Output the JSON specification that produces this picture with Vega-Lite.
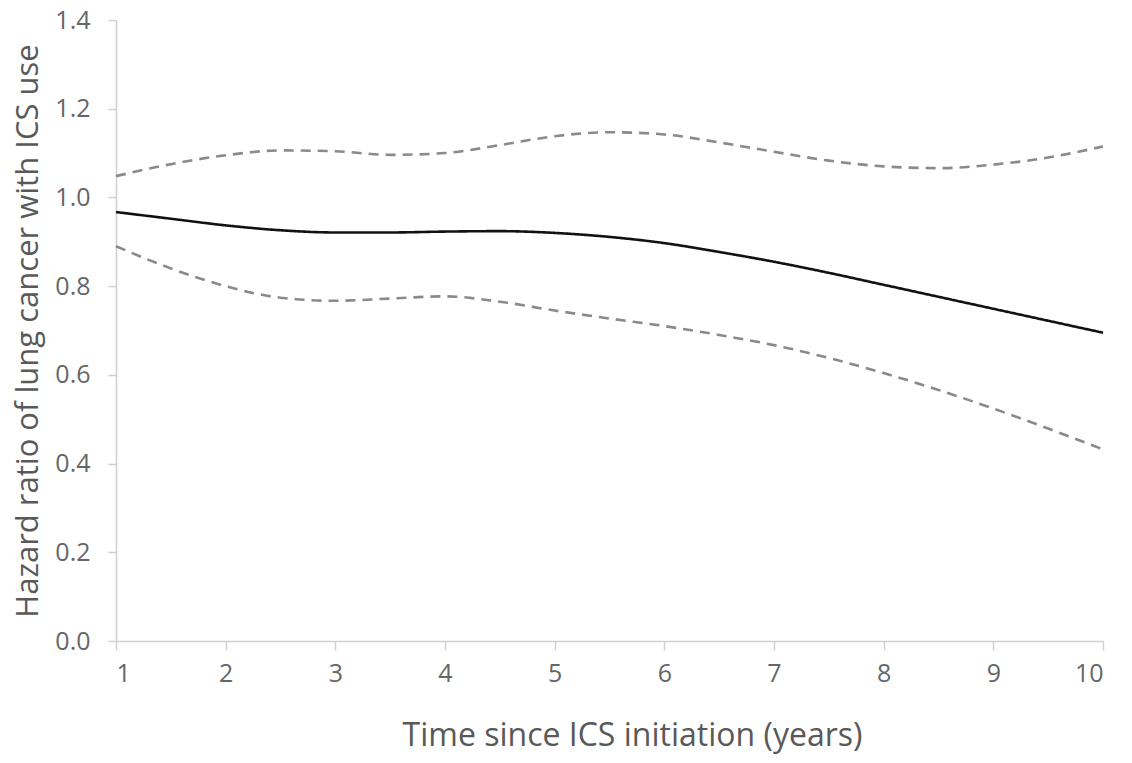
{
  "$schema": "https://vega.github.io/schema/vega-lite/v6.json",
  "width": 987,
  "height": 621,
  "autosize": {"type": "none"},
  "padding": {"left": 116, "top": 20, "right": 29, "bottom": 122},
  "background": "white",
  "config": {"view": {"stroke": null}, "font": "Open Sans"},
  "data": {"values": [
    {"t": 1, "hr": 0.967, "s": "HR"},
    {"t": 1.5, "hr": 0.952, "s": "HR"},
    {"t": 2, "hr": 0.937, "s": "HR"},
    {"t": 2.5, "hr": 0.926, "s": "HR"},
    {"t": 3, "hr": 0.921, "s": "HR"},
    {"t": 3.5, "hr": 0.921, "s": "HR"},
    {"t": 4, "hr": 0.923, "s": "HR"},
    {"t": 4.5, "hr": 0.924, "s": "HR"},
    {"t": 5, "hr": 0.92, "s": "HR"},
    {"t": 5.5, "hr": 0.911, "s": "HR"},
    {"t": 6, "hr": 0.897, "s": "HR"},
    {"t": 6.5, "hr": 0.877, "s": "HR"},
    {"t": 7, "hr": 0.855, "s": "HR"},
    {"t": 7.5, "hr": 0.83, "s": "HR"},
    {"t": 8, "hr": 0.803, "s": "HR"},
    {"t": 8.5, "hr": 0.776, "s": "HR"},
    {"t": 9, "hr": 0.749, "s": "HR"},
    {"t": 9.5, "hr": 0.722, "s": "HR"},
    {"t": 10, "hr": 0.695, "s": "HR"},
    {"t": 1, "hr": 1.048, "s": "Upper"},
    {"t": 1.5, "hr": 1.075, "s": "Upper"},
    {"t": 2, "hr": 1.095, "s": "Upper"},
    {"t": 2.5, "hr": 1.106, "s": "Upper"},
    {"t": 3, "hr": 1.104, "s": "Upper"},
    {"t": 3.5, "hr": 1.096, "s": "Upper"},
    {"t": 4, "hr": 1.1, "s": "Upper"},
    {"t": 4.5, "hr": 1.118, "s": "Upper"},
    {"t": 5, "hr": 1.138, "s": "Upper"},
    {"t": 5.5, "hr": 1.147, "s": "Upper"},
    {"t": 6, "hr": 1.142, "s": "Upper"},
    {"t": 6.5, "hr": 1.124, "s": "Upper"},
    {"t": 7, "hr": 1.103, "s": "Upper"},
    {"t": 7.5, "hr": 1.083, "s": "Upper"},
    {"t": 8, "hr": 1.07, "s": "Upper"},
    {"t": 8.5, "hr": 1.066, "s": "Upper"},
    {"t": 9, "hr": 1.074, "s": "Upper"},
    {"t": 9.5, "hr": 1.09, "s": "Upper"},
    {"t": 10, "hr": 1.115, "s": "Upper"},
    {"t": 1, "hr": 0.89, "s": "Lower"},
    {"t": 1.5, "hr": 0.84, "s": "Lower"},
    {"t": 2, "hr": 0.8, "s": "Lower"},
    {"t": 2.5, "hr": 0.774, "s": "Lower"},
    {"t": 3, "hr": 0.767, "s": "Lower"},
    {"t": 3.5, "hr": 0.772, "s": "Lower"},
    {"t": 4, "hr": 0.777, "s": "Lower"},
    {"t": 4.5, "hr": 0.765, "s": "Lower"},
    {"t": 5, "hr": 0.745, "s": "Lower"},
    {"t": 5.5, "hr": 0.727, "s": "Lower"},
    {"t": 6, "hr": 0.71, "s": "Lower"},
    {"t": 6.5, "hr": 0.69, "s": "Lower"},
    {"t": 7, "hr": 0.667, "s": "Lower"},
    {"t": 7.5, "hr": 0.638, "s": "Lower"},
    {"t": 8, "hr": 0.604, "s": "Lower"},
    {"t": 8.5, "hr": 0.566, "s": "Lower"},
    {"t": 9, "hr": 0.524, "s": "Lower"},
    {"t": 9.5, "hr": 0.479, "s": "Lower"},
    {"t": 10, "hr": 0.432, "s": "Lower"}
  ]},
  "mark": {"type": "line", "interpolate": "monotone", "strokeWidth": 2.6},
  "encoding": {
    "x": {
      "field": "t", "type": "quantitative",
      "scale": {"domain": [1, 10], "nice": false, "zero": false},
      "axis": {
        "values": [1, 2, 3, 4, 5, 6, 7, 8, 9, 10],
        "title": "Time since ICS initiation (years)",
        "grid": false,
        "domainColor": "#d0d0d0", "domainWidth": 1.5,
        "tickColor": "#d0d0d0", "tickWidth": 1.5, "tickSize": 9,
        "labelFontSize": 25, "labelColor": "#666666", "labelPadding": 11,
        "titleFontSize": 32, "titleColor": "#595959", "titleFontWeight": "normal",
        "titlePadding": 34, "titleX": 516
      }
    },
    "y": {
      "field": "hr", "type": "quantitative",
      "scale": {"domain": [0, 1.4], "nice": false},
      "axis": {
        "values": [0, 0.2, 0.4, 0.6, 0.8, 1.0, 1.2, 1.4],
        "format": ".1f",
        "title": "Hazard ratio of lung cancer with ICS use",
        "grid": false,
        "domainColor": "#d0d0d0", "domainWidth": 1.5,
        "tickColor": "#d0d0d0", "tickWidth": 1.5, "tickSize": 8,
        "labelFontSize": 25, "labelColor": "#666666", "labelPadding": 18,
        "titleFontSize": 31, "titleColor": "#595959", "titleFontWeight": "normal",
        "titlePadding": 10
      }
    },
    "color": {
      "field": "s", "type": "nominal",
      "scale": {"domain": ["HR", "Upper", "Lower"], "range": ["#111111", "#8a8a8a", "#8a8a8a"]},
      "legend": null
    },
    "strokeDash": {
      "field": "s", "type": "nominal",
      "scale": {"domain": ["HR", "Upper", "Lower"], "range": [[1, 0], [10, 7], [10, 7]]},
      "legend": null
    }
  }
}
